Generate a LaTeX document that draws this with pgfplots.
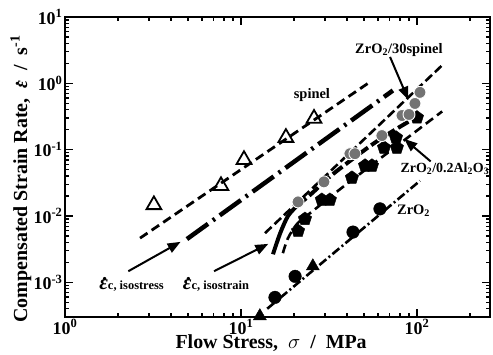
\documentclass[border=0pt]{standalone}
\usepackage{fontspec}
\setmainfont{Liberation Serif}
\usepackage{pgfplots}
\pgfplotsset{compat=1.18}
\usetikzlibrary{arrows.meta}
\DeclareRobustCommand{\epsdot}[1]{{\fontsize{#1}{#1}\selectfont\bfseries\itshape\rlap{\raisebox{0.45em}{\hspace{0.17em}.}}ε}}
\begin{document}
\begin{tikzpicture}
\begin{axis}[
  xmode=log, ymode=log,
  xmin=1, xmax=260, ymin=3e-4, ymax=10,
  scale only axis, width=425bp, height=300bp,
  axis line style={line width=1.7bp},
  tick style={line width=1.2bp, black},
  major tick length=8bp, minor tick length=4.5bp,
  tick align=inside, xtick pos=both, ytick pos=both,
  xtick={1,10,100},
  xticklabels={\textbf{10}\textsuperscript{\textbf{0}},\textbf{10}\textsuperscript{\textbf{1}},\textbf{10}\textsuperscript{\textbf{2}}},
  minor xtick={2,3,4,5,6,7,8,9,20,30,40,50,60,70,80,90,200},
  ytick={1e-3,1e-2,1e-1,1,10},
  yticklabels={\textbf{10}\textsuperscript{\textbf{-3}},\textbf{10}\textsuperscript{\textbf{-2}},\textbf{10}\textsuperscript{\textbf{-1}},\textbf{10}\textsuperscript{\textbf{0}},\textbf{10}\textsuperscript{\textbf{1}}},
  minor ytick={4e-4,5e-4,6e-4,7e-4,8e-4,9e-4,2e-3,3e-3,4e-3,5e-3,6e-3,7e-3,8e-3,9e-3,2e-2,3e-2,4e-2,5e-2,6e-2,7e-2,8e-2,9e-2,0.2,0.3,0.4,0.5,0.6,0.7,0.8,0.9,2,3,4,5,6,7,8,9},
  tick label style={font=\fontsize{18}{20}\selectfont},
  xticklabel style={yshift=1bp},
  yticklabel style={xshift=1bp},
  xlabel={\textbf{Flow Stress,\ \ $\sigma$\ \ /\ \ MPa}},
  ylabel={\textbf{Compensated Strain Rate,\ \ {\mdseries\epsdot{19}}\ \ /\ \ s\textsuperscript{-1}}},
  label style={font=\fontsize{20}{22}\selectfont},
  xlabel style={at={(axis description cs:0.485,-0.088)}, anchor=center},
  ylabel style={at={(axis description cs:-0.104,0.46)}, anchor=center},
]
% fit lines
\addplot[black, line width=2.8bp, dash pattern=on 9bp off 5bp] coordinates {(2.67,0.00464) (55,1.08)};
\addplot[black, line width=4.5bp, dash pattern=on 26bp off 6bp on 2.5bp off 6bp] coordinates {(4.93,0.00449) (73,0.78)};
\addplot[black, line width=2.6bp, dash pattern=on 9bp off 4bp] coordinates {(13.7,0.00552) (139,1.87)};
\addplot[black, line width=2.6bp, dash pattern=on 9bp off 5bp, smooth] coordinates {(17.3,0.00275) (18.5,0.00464) (21,0.0078) (25.6,0.0119) (40,0.0305) (139,0.377)};
\addplot[black, line width=2.6bp, dash pattern=on 9bp off 3bp on 2bp off 3bp] coordinates {(14.1,4.0e-4) (104,0.0339)};
\addplot[black, line width=4bp, smooth] coordinates {(15.2,0.00265) (16.7,0.0055) (18.5,0.010) (20.8,0.0142)};
\addplot[black, line width=4bp, dash pattern=on 12bp off 4bp, smooth] coordinates {(20.8,0.0142) (25.3,0.022) (33,0.042) (52,0.105) (68,0.17) (95,0.29)};
% spinel (open triangles)
\addplot[only marks, mark=triangle, mark size=8.5bp, mark options={line width=1.8bp, fill=white, draw=black}] coordinates {(3.2,0.0147) (7.7,0.0285) (10.4,0.0705) (18.0,0.152) (26,0.295)};
% ZrO2 (filled circles and triangles)
\addplot[only marks, mark=*, mark size=6.3bp, mark options={fill=black, draw=black}] coordinates {(15.6,5.93e-4) (20.3,1.23e-3) (43.3,5.72e-3) (61.6,0.0128)};
\addplot[only marks, mark=triangle*, mark size=7.5bp, mark options={fill=black, draw=black}] coordinates {(12.8,3.1e-4) (25.6,1.75e-3)};
% ZrO2/0.2Al2O3 (pentagons)
\addplot[only marks, mark=pentagon*, mark size=7bp, mark options={fill=black, draw=black}] coordinates {(21.1,0.00593) (23.1,0.00901) (28.8,0.0175) (32.0,0.0175) (42.7,0.0377) (50.7,0.0573) (55.5,0.0573) (65.0,0.107) (76.9,0.107) (76.0,0.152) (100,0.305)};
% ZrO2/30spinel (grey circles)
\addplot[only marks, mark=*, mark size=6bp, mark options={fill=black!55, draw=white, line width=0.9bp}] coordinates {(21.1,0.0163) (29.6,0.0327) (41.6,0.0869) (44.4,0.0869) (63.2,0.163) (82.2,0.327) (90.1,0.339) (97.4,0.497) (104,0.731)};
% arrows
\draw[line width=2bp, -{Triangle[length=13bp,width=10bp]}] (axis cs:2.29,1.47e-3) -- (axis cs:4.54,4.08e-3);
\draw[line width=2bp, -{Triangle[length=13bp,width=10bp]}] (axis cs:7.03,1.47e-3) -- (axis cs:14.3,3.8e-3);
\draw[line width=2bp, -{Triangle[length=13bp,width=10bp]}] (axis cs:70.3,2.5) -- (axis cs:89.3,0.566);
\draw[line width=2bp, -{Triangle[length=13bp,width=10bp]}] (axis cs:119.6,0.0665) -- (axis cs:84.7,0.145);
% labels
\node[font=\bfseries\fontsize{14.5}{16}\selectfont] at (axis cs:79,3.16) {ZrO\textsubscript{2}/30spinel};
\node[font=\bfseries\fontsize{14.5}{16}\selectfont] at (axis cs:25.3,0.657) {spinel};
\node[font=\bfseries\fontsize{14}{16}\selectfont] at (axis cs:144,0.0515) {ZrO\textsubscript{2}/0.2Al\textsubscript{2}O\textsubscript{3}};
\node[font=\bfseries\fontsize{14.5}{16}\selectfont] at (axis cs:95.6,0.0119) {ZrO\textsubscript{2}};
\node[font=\bfseries\fontsize{12.5}{14}\selectfont, inner sep=0pt] at (axis cs:2.39,9.3e-4) {\epsdot{21}c, isostress};
\node[font=\bfseries\fontsize{12.5}{14}\selectfont, inner sep=0pt] at (axis cs:7.21,9.3e-4) {\epsdot{21}c, isostrain};
\end{axis}
\pgfresetboundingbox
\path[use as bounding box] ([shift={(-65bp,-38bp)}]current axis.south west) rectangle ([shift={(3bp,17bp)}]current axis.north east);
\end{tikzpicture}
\end{document}
